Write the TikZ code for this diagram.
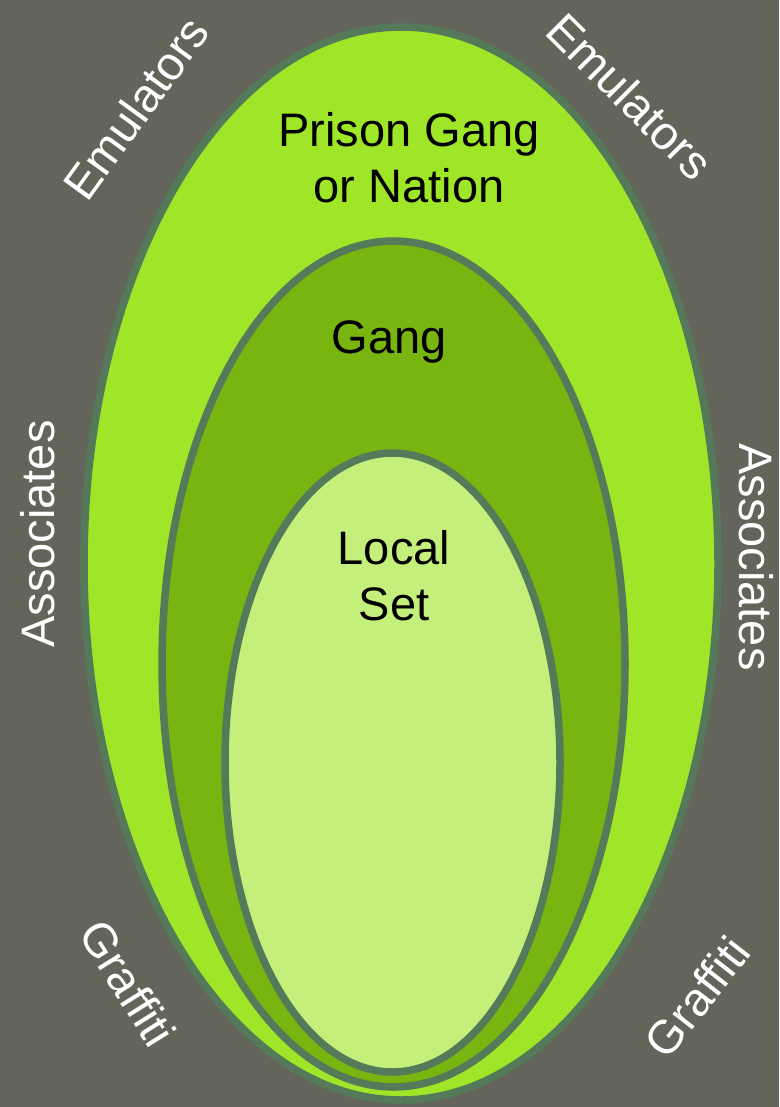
\documentclass[tikz,border=0pt]{standalone}
\usepackage{fontspec}
\setmainfont{Liberation Sans}
\definecolor{bgc}{HTML}{63655A}
\definecolor{rim}{HTML}{547A5A}
\definecolor{outerf}{HTML}{9EE627}
\definecolor{midf}{HTML}{79B510}
\definecolor{innerf}{HTML}{C5EF7B}
\tikzset{
  ring/.style={draw=rim, line width=7.5pt},
  dark/.style={text=black, align=center, font=\fontsize{47}{56}\selectfont},
  light/.style={text=white, font=\fontsize{47}{56}\selectfont, inner sep=0pt}
}
\begin{document}
\begin{tikzpicture}[x=1pt,y=-1pt]
\fill[bgc] (0,0) rectangle (779,1107);
\useasboundingbox (0,0) rectangle (779,1107);
\path[ring, fill=outerf] (401,563.5) ellipse [x radius=317, y radius=536.5];
\path[ring, fill=midf] (393.5,664) ellipse [x radius=231.5, y radius=423];
\path[ring, fill=innerf] (392.5,762.5) ellipse [x radius=167.5, y radius=309.5];
\node[dark] (nation) at (409,158) {Prison Gang\\or Nation};
\node[dark] (gang) at (389,342) {Gang};
\node[dark] (local) at (394,576) {Local\\Set};
\node[light, rotate=54] (emuL) at (136,108) {Emulators};
\node[light, rotate=-45] (emuR) at (630,96) {Emulators};
\node[light, rotate=90] (assL) at (38,534) {Associates};
\node[light, rotate=-90] (assR) at (756,557) {Associates};
\node[light, rotate=-58] (grafL) at (128,983) {Graffiti};
\node[light, rotate=52] (grafR) at (697,997) {Graffiti};
\end{tikzpicture}
\end{document}
